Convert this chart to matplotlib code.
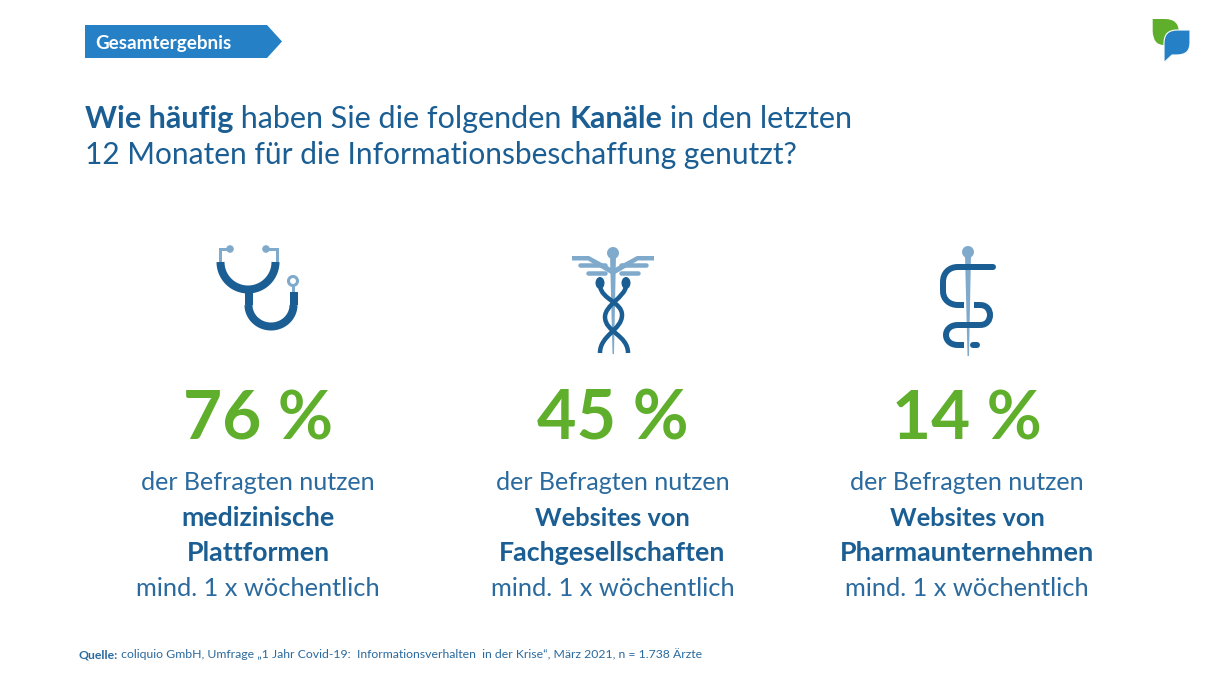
import numpy as np
import matplotlib
matplotlib.use("Agg")
import matplotlib.pyplot as plt
from matplotlib.patches import Circle, Ellipse, PathPatch, Polygon
from matplotlib.path import Path

# ---- content ----
badge = "Gesamtergebnis"
title_line1 = [("Wie häufig", "bold"), (" haben Sie die folgenden ", "normal"), ("Kanäle", "bold"), (" in den letzten", "normal")]
title_line2 = [("12 Monaten für die Informationsbeschaffung genutzt?", "normal")]
percents = [76, 45, 14]
lead = "der Befragten nutzen"
channels = [("medizinische", "Plattformen"), ("Websites von", "Fachgesellschaften"), ("Websites von", "Pharmaunternehmen")]
freq = "mind. 1 x wöchentlich"
source = [("Quelle:", "bold"), (" coliquio GmbH, Umfrage „1 Jahr Covid-19:  Informationsverhalten  in der Krise“, März 2021, n = 1.738 Ärzte", "normal")]

DARK, LIGHT, GREEN, BLUE, TXT = "#1B5E93", "#80AACC", "#5FAF2D", "#2580C5", "#2A6A9E"
FONT = "Lato"
plt.rcParams["font.family"] = [FONT, "DejaVu Sans"]

fig = plt.figure(figsize=(12.1, 6.8), dpi=100, facecolor="white")
ax = fig.add_axes([0, 0, 1, 1])
ax.set_xlim(0, 1210); ax.set_ylim(680, 0); ax.axis("off")
rend = fig.canvas.get_renderer()

def adv(s, size, weight):
    t1 = ax.text(0, 0, s + "|", fontsize=size, fontweight=weight)
    t2 = ax.text(0, 0, "|", fontsize=size, fontweight=weight)
    w = t1.get_window_extent(rend).width - t2.get_window_extent(rend).width
    t1.remove(); t2.remove()
    return w

def rich(frags, x, y, width=None, size=20, color=DARK):
    if width is not None:
        size = size * width / sum(adv(s, size, w) for s, w in frags)
    for s, w in frags:
        ax.text(x, y, s, fontsize=size, fontweight=w, color=color, va="baseline", ha="left")
        x += adv(s, size, w)

def ctext(s, x, y, width, weight="normal", color=TXT, size=20):
    size = size * width / adv(s, size, weight)
    ax.text(x, y, s, fontsize=size, fontweight=weight, color=color, ha="center", va="baseline")

def line(pts, color=DARK, lw=5, cap="butt", curve=False):
    pts = np.asarray(pts, float)
    if curve:
        codes = [Path.MOVETO] + [Path.CURVE4] * (len(pts) - 1)
        ax.add_patch(PathPatch(Path(pts, codes), fc="none", ec=color, lw=lw * 0.72, capstyle=cap))
    else:
        ax.plot(pts[:, 0], pts[:, 1], color=color, lw=lw * 0.72, solid_capstyle=cap, solid_joinstyle="miter")

# banner
ax.add_patch(Polygon([(85, 25), (267, 25), (282, 41.5), (267, 58), (85, 58)], fc=BLUE, ec="none"))
rich([(badge, "bold")], 95.5, 48.5, width=136, color="white")

# title
rich(title_line1, 85, 128, width=770, color=DARK)
rich(title_line2, 85, 164, width=714, color=DARK)

# logo
ax.add_patch(PathPatch(Path([(1152.7, 19), (1165, 19), (1179, 19), (1179, 33), (1164, 45),
                             (1153, 45), (1152.7, 31), (1152.7, 19)],
                            [Path.MOVETO, Path.LINETO, Path.CURVE3, Path.CURVE3, Path.LINETO,
                             Path.CURVE3, Path.CURVE3, Path.CLOSEPOLY]), fc=GREEN, ec="none"))
ax.add_patch(PathPatch(Path([(1164, 62.5), (1164, 43), (1164, 30), (1177, 30), (1190, 30), (1190, 43),
                             (1190, 55), (1177, 55), (1172, 55), (1164, 62.5)],
                            [Path.MOVETO, Path.LINETO, Path.CURVE3, Path.CURVE3, Path.LINETO, Path.LINETO,
                             Path.CURVE3, Path.CURVE3, Path.LINETO, Path.CLOSEPOLY]), fc=BLUE, ec="white", lw=0.8))

# stethoscope
line([(220, 263), (220, 249), (230, 249)], LIGHT, 3)
line([(277, 263), (277, 249), (266, 249)], LIGHT, 3)
ax.add_patch(Circle((230, 249), 3.8, fc=LIGHT, ec="none"))
ax.add_patch(Circle((266, 249), 3.8, fc=LIGHT, ec="none"))
line([(293, 286), (293, 292)], LIGHT, 3)
ax.add_patch(Circle((293, 281), 4.5, fc="white", ec=LIGHT, lw=2.2))
th = np.linspace(0, np.pi, 60)
line(np.c_[248 + 27.5 * np.cos(th), 262 + 27.5 * np.sin(th)], DARK, 8)
line([(248.5, 288), (248.5, 305)], DARK, 8)
line(np.c_[271 + 22.5 * np.cos(th[::-1]), 305 + 21.5 * np.sin(th[::-1])], DARK, 8)
line([(293.5, 305), (293.5, 292)], DARK, 8)

# caduceus
ax.add_patch(Polygon([(610, 255), (616, 255), (614, 354), (612.5, 354)], fc=LIGHT, ec="none"))
ax.add_patch(Circle((613, 253), 6, fc=LIGHT, ec="none"))
for s in (-1, 1):
    ax.add_patch(Polygon([(613 + s * 2, 268), (613 + s * 24, 256), (613 + s * 41, 256), (613 + s * 41, 260.5),
                          (613 + s * 25, 260.5), (613 + s * 2, 274)], fc=LIGHT, ec="none"))
    line([(613 + s * 8, 265), (613 + s * 33, 265)], LIGHT, 4.5, "round")
    line([(613 + s * 8, 272.5), (613 + s * 25, 272.5)], LIGHT, 4.5, "round")
    ax.add_patch(Ellipse((613 + s * 13, 283), 9, 12, fc=DARK, ec="none"))
line([(600, 286), (602, 300), (622, 302), (622, 315), (622, 330), (600, 335), (600, 353)], DARK, 4.5, curve=True)
line([(626, 286), (625, 297), (605, 305), (605, 317), (605, 332), (628, 335), (628, 353)], DARK, 4.5, curve=True)

# rod of Asclepius
ax.add_patch(Polygon([(965, 255), (971, 255), (969, 356), (967.5, 356)], fc=LIGHT, ec="none"))
ax.add_patch(Circle((968, 252), 6, fc=LIGHT, ec="none"))
line([(993, 267), (958, 267)], DARK, 6, "round")
line([(958, 267), (949, 267), (943, 273), (943, 282)], DARK, 6, curve=True)
line([(943, 282), (943, 291)], DARK, 6)
line([(943, 291), (943, 300), (950, 305), (958, 305)], DARK, 6, curve=True)
line([(958, 305), (964, 305)], DARK, 6)
line([(974, 305), (980, 305)], DARK, 6)
line([(980, 305), (987, 305), (990, 310), (990, 315), (990, 320), (987, 325), (980, 325)], DARK, 6, curve=True)
line([(980, 325), (958, 325)], DARK, 6)
line([(958, 325), (950, 325), (946, 330), (946, 335), (946, 340), (950, 345), (958, 345)], DARK, 6, curve=True)
line([(958, 345), (964, 345)], DARK, 6)
line([(973, 345), (977, 345)], DARK, 6, "round")

# columns
centers = [258, 612.5, 967]
num_w = [150, 152, 150]
bold_w = [(153, 143), (155, 227), (155, 254)]
for cx, p, (a, b), nw, (wa, wb) in zip(centers, percents, channels, num_w, bold_w):
    ctext(f"{p} %", cx, 440, nw, "bold", GREEN)
    ctext(lead, cx, 490, 235)
    ctext(a, cx, 526, wa, "bold", DARK)
    ctext(b, cx, 561, wb, "bold", DARK)
    ctext(freq, cx, 596, 245)

rich(source, 78.5, 658, width=626, color=TXT)
fig.savefig("out.png", dpi=100, facecolor="white")
